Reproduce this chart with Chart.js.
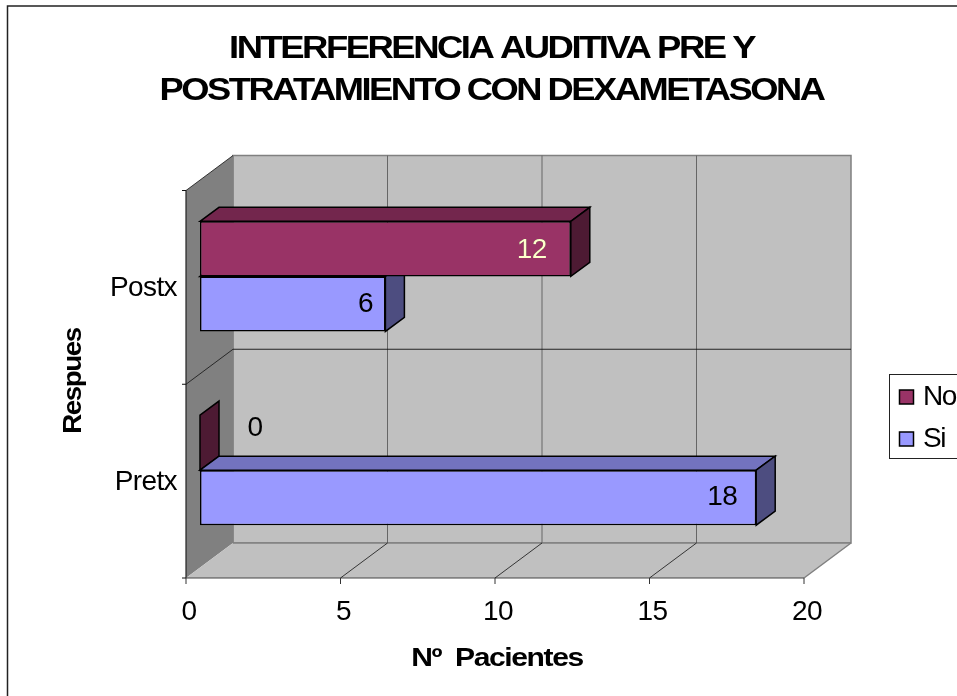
<!DOCTYPE html>
<html>
<head>
<meta charset="utf-8">
<title>Interferencia auditiva</title>
<style>
    html, body { margin: 0; padding: 0; background: #fff; overflow: hidden; }
    canvas { display: block; }
</style>
<script src="https://cdn.jsdelivr.net/npm/chart.js@4/dist/chart.umd.min.js"></script>
</head>
<body>
<canvas id="chart" width="957" height="696"></canvas>
<script>
const categories = ['Postx', 'Pretx'];
const seriesNames = ['No', 'Si'];
const noValues = [12, 0];
const siValues = [6, 18];
const xTicks = [0, 5, 10, 15, 20];

const titleLines = ['INTERFERENCIA AUDITIVA PRE Y', 'POSTRATAMIENTO CON DEXAMETASONA'];
const xTitle = 'Nº  Pacientes';
const yTitle = 'Respues';

const FONT = '"Liberation Sans", Arial, sans-serif';
const BLACK = '#000';
const WALL = '#c0c0c0';
const SIDE_WALL = '#808080';

// offsets of the 3D box relative to the plane the bars stand in
const FRONT = { x: -14, y: 11 };
const BACK = { x: 33, y: -24 };
const BAR_DEPTH = { x: 19, y: -14 };

// data label shift from the bar end, per series and category
const labelShift = [[{ x: -39, y: 1 }, { x: 55, y: -14 }], [{ x: -20, y: 0 }, { x: -34, y: 0 }]];
const labelColors = [['#ffffcc', BLACK], [BLACK, BLACK]];

function polygon(ctx, points, fill, stroke, width) {
    ctx.beginPath();
    points.forEach((p, i) => (i ? ctx.lineTo(p[0], p[1]) : ctx.moveTo(p[0], p[1])));
    ctx.closePath();
    if (fill) {
        ctx.fillStyle = fill;
        ctx.fill();
    }
    if (stroke) {
        ctx.strokeStyle = stroke;
        ctx.lineWidth = width;
        ctx.stroke();
    }
}

function line(ctx, x1, y1, x2, y2, color, width) {
    ctx.beginPath();
    ctx.moveTo(x1, y1);
    ctx.lineTo(x2, y2);
    ctx.strokeStyle = color;
    ctx.lineWidth = width;
    ctx.stroke();
}

function text(ctx, str, x, y, font, spacing, align) {
    ctx.font = font;
    ctx.letterSpacing = spacing + 'px';
    ctx.textAlign = align || 'center';
    ctx.textBaseline = 'middle';
    ctx.fillStyle = BLACK;
    ctx.fillText(str, x, y);
}

// the heavy titles are set wider than their natural width
function wideText(ctx, str, x, y, font, spacing, stretch) {
    ctx.save();
    ctx.translate(x, y);
    ctx.scale(stretch, 1);
    text(ctx, str, 0, 0, font, spacing);
    ctx.restore();
}

function shade(hex, factor) {
    const n = parseInt(hex.slice(1), 16);
    const c = [n >> 16, (n >> 8) & 255, n & 255].map(v => Math.round(v * factor));
    return `rgb(${c.join(',')})`;
}

const boxPlugin = {
    id: 'box3d',
    beforeDraw(chart) {
        const { ctx, chartArea: a, scales } = chart;
        const fl = a.left + FRONT.x, fr = a.right + FRONT.x, ft = a.top + FRONT.y, fb = a.bottom + FRONT.y;
        const bl = a.left + BACK.x, br = a.right + BACK.x, bt = a.top + BACK.y, bb = a.bottom + BACK.y;

        ctx.save();
        ctx.lineCap = 'butt';

        // outer frame runs off the right and bottom of the canvas
        ctx.strokeStyle = '#222';
        ctx.lineWidth = 1.5;
        ctx.strokeRect(7.5, 6, 1200, 1200);

        // walls and floor
        polygon(ctx, [[bl, bt], [br, bt], [br, bb], [bl, bb]], WALL, SIDE_WALL, 1.5);
        polygon(ctx, [[fl, ft], [bl, bt], [bl, bb], [fl, fb]], SIDE_WALL);
        polygon(ctx, [[fl, fb], [bl, bb], [br, bb], [fr, fb]], WALL);
        line(ctx, bl, bb, br, bb, SIDE_WALL, 1.5);
        line(ctx, br, bb, fr, fb, SIDE_WALL, 1.5);
        line(ctx, fl, ft, fl, fb, '#222', 1.2);
        line(ctx, fl, fb, fr, fb, '#444', 1.2);
        line(ctx, bl, bt, bl, bb, SIDE_WALL, 1);

        // vertical grid on back wall and floor, ticks on the front edge
        xTicks.forEach(v => {
            const px = scales.x.getPixelForValue(v);
            const fx = px + FRONT.x, bx = px + BACK.x;
            if (v > 0 && v < 20) {
                line(ctx, bx, bt, bx, bb, '#666', 1);
                line(ctx, fx, fb, bx, bb, '#111', 0.8);
            }
            line(ctx, fx, fb, fx, fb + 6, '#333', 1);
        });

        // category separators on back wall and side wall
        const step = (a.bottom - a.top) / categories.length;
        for (let i = 0; i <= categories.length; i++) {
            const y = a.top + i * step;
            if (i < categories.length) {
                line(ctx, fl, y + FRONT.y, bl, y + BACK.y, '#111', 0.8);
            }
            if (i === 1) {
                line(ctx, bl, y + BACK.y, br, y + BACK.y, '#111', 0.9);
            }
            line(ctx, fl - 4, y + FRONT.y, fl, y + FRONT.y, '#111', 1);
        }
        ctx.restore();

        // tightly set text throughout, the scales pick this up as well
        ctx.letterSpacing = '-0.6px';
    },
    beforeDatasetsDraw(chart) {
        const { ctx } = chart;
        ctx.save();
        chart.data.datasets.forEach((ds, d) => {
            chart.getDatasetMeta(d).data.forEach(bar => {
                const x0 = bar.base, x1 = bar.x, yt = bar.y - bar.height / 2, yb = bar.y + bar.height / 2;
                const dx = BAR_DEPTH.x, dy = BAR_DEPTH.y;
                if (x1 > x0) {
                    polygon(ctx, [[x0, yt], [x0 + dx, yt + dy], [x1 + dx, yt + dy], [x1, yt]],
                        shade(ds.backgroundColor, 0.75), BLACK, 1.5);
                }
                polygon(ctx, [[x1, yt], [x1 + dx, yt + dy], [x1 + dx, yb + dy], [x1, yb]],
                    shade(ds.backgroundColor, 0.5), BLACK, 1.5);
            });
        });
        ctx.restore();
    },
    afterDatasetsDraw(chart) {
        const { ctx, scales } = chart;
        ctx.save();
        chart.data.datasets.forEach((ds, d) => {
            chart.getDatasetMeta(d).data.forEach((bar, i) => {
                const px = scales.x.getPixelForValue(ds.data[i]) + labelShift[d][i].x;
                text(ctx, String(ds.data[i]), px, bar.y + labelShift[d][i].y, `28px ${FONT}`, -0.6);
                if (labelColors[d][i] !== BLACK) {
                    ctx.fillStyle = labelColors[d][i];
                    ctx.fillText(String(ds.data[i]), px, bar.y + labelShift[d][i].y);
                }
            });
        });
        ctx.restore();
    },
    afterDraw(chart) {
        const { ctx } = chart;
        ctx.save();

        // chart title
        wideText(ctx, titleLines[0], 491.5, 49, `bold 32px ${FONT}`, -2.2, 1.14);
        wideText(ctx, titleLines[1], 491.5, 91, `bold 32px ${FONT}`, -2.2, 1.134);

        // axis titles
        wideText(ctx, xTitle, 497, 659, `bold 26px ${FONT}`, -1.2, 1.155);
        ctx.save();
        ctx.translate(74, 381);
        ctx.rotate(-Math.PI / 2);
        wideText(ctx, yTitle, 0, 0, `bold 26px ${FONT}`, -1.4, 1.07);
        ctx.restore();

        // legend box, cut off by the right edge of the canvas
        ctx.fillStyle = '#fff';
        ctx.fillRect(889.5, 374.5, 200, 84);
        ctx.strokeStyle = '#222';
        ctx.lineWidth = 1;
        ctx.strokeRect(889.5, 374.5, 200, 84);
        chart.data.datasets.forEach((ds, d) => {
            const y = 390 + d * 42;
            ctx.fillStyle = ds.backgroundColor;
            ctx.fillRect(899.5, y, 14, 14);
            ctx.strokeStyle = BLACK;
            ctx.lineWidth = 1.5;
            ctx.strokeRect(899.5, y, 14, 14);
            text(ctx, ds.label, 923, y + 7, `28px ${FONT}`, -1.5, 'left');
        });
        ctx.restore();
    }
};

new Chart(document.getElementById('chart').getContext('2d'), {
    type: 'bar',
    data: {
        labels: categories,
        datasets: [
            { label: seriesNames[0], data: noValues, backgroundColor: '#993366' },
            { label: seriesNames[1], data: siValues, backgroundColor: '#9999ff' }
        ]
    },
    options: {
        indexAxis: 'y',
        responsive: false,
        animation: false,
        layout: { padding: { top: 179.5, right: 139, left: 0, bottom: 0 } },
        datasets: {
            bar: {
                barPercentage: 1,
                categoryPercentage: 0.568,
                borderColor: BLACK,
                borderWidth: 1.5,
                borderSkipped: false
            }
        },
        scales: {
            x: {
                min: 0,
                max: 20,
                afterFit: scale => { scale.height = 129; },
                border: { display: false },
                grid: { display: false },
                ticks: {
                    stepSize: 5,
                    maxRotation: 0,
                    padding: 20,
                    labelOffset: -11,
                    color: BLACK,
                    font: { family: FONT, size: 28 }
                }
            },
            y: {
                afterFit: scale => { scale.width = 200; },
                border: { display: false },
                grid: { display: false },
                ticks: {
                    padding: 15,
                    labelOffset: 12,
                    color: BLACK,
                    font: { family: FONT, size: 28 }
                }
            }
        },
        plugins: {
            legend: { display: false },
            title: { display: false },
            tooltip: { enabled: false }
        }
    },
    plugins: [boxPlugin]
});
</script>
</body>
</html>
